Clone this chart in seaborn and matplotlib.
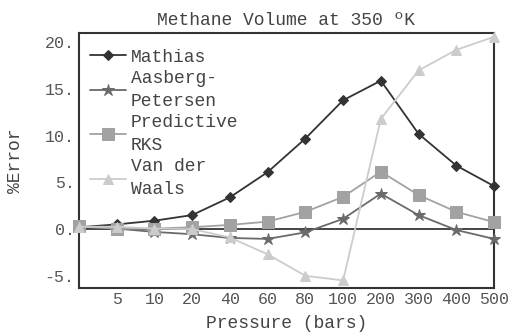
import matplotlib
matplotlib.use("Agg")
import matplotlib.pyplot as plt
import seaborn as sns
import pandas as pd

pressure_labels = ["", "5", "10", "20", "40", "60", "80", "100", "200", "300", "400", "500"]
mathias = [0.2, 0.5, 0.9, 1.5, 3.4, 6.1, 9.7, 13.8, 15.9, 10.2, 6.8, 4.6]
aasberg = [0.25, 0.05, -0.3, -0.55, -0.95, -1.05, -0.35, 1.1, 3.8, 1.5, -0.1, -1.05]
rks = [0.3, 0.05, 0.05, 0.2, 0.45, 0.8, 1.85, 3.45, 6.15, 3.65, 1.85, 0.75]
vdw = [0.25, 0.25, 0.05, 0.0, -0.9, -2.7, -5.0, -5.5, 11.8, 17.0, 19.2, 20.6]
series_names = ["Mathias", "Aasberg-\nPetersen", "Predictive\nRKS", "Van der\nWaals"]
yticks = [-5, 0, 5, 10, 15, 20]

sns.set_style("white")
plt.rcParams["font.family"] = ["Liberation Mono", "DejaVu Sans Mono"]

fig = plt.figure(figsize=(5.12, 3.34), dpi=100)
ax = fig.add_axes([0.154, 0.138, 0.811, 0.763])

xpos = list(range(len(pressure_labels)))
styles = [
    (mathias, "#333333", "D", 5.5),
    (aasberg, "#6a6a6a", "*", 9),
    (rks, "#a2a2a2", "s", 8),
    (vdw, "#cccccc", "^", 7),
]
ax.axhline(0, color="#444444", lw=1.4, zorder=1)
for name, (vals, col, mk, ms) in zip(series_names, styles):
    df = pd.DataFrame({"x": xpos, "y": vals})
    sns.lineplot(data=df, x="x", y="y", ax=ax, color=col, marker=mk,
                 markersize=ms, markeredgecolor=col, lw=1.3, label=name,
                 clip_on=False, zorder=3)

ax.set_xlim(0, 11)
ax.set_ylim(-6.3, 21)
ax.set_xticks(xpos[1:])
ax.set_xticklabels(pressure_labels[1:], fontsize=12, color="#555555")
ax.set_yticks(yticks)
ax.set_yticklabels([f"{v}." for v in yticks], fontsize=12, color="#555555")
ax.tick_params(direction="in", length=4, width=1, color="#333333", pad=3)
for s in ax.spines.values():
    s.set_color("#333333")
    s.set_linewidth(1.5)
    s.set_visible(True)

ax.set_title("Methane Volume at 350 ºK", fontsize=13, color="#444444", pad=6)
ax.set_xlabel("Pressure (bars)", fontsize=13, color="#444444", labelpad=6)
ax.set_ylabel("%Error", fontsize=13, color="#444444", labelpad=15)

leg = ax.legend(loc="upper left", frameon=False, fontsize=13, handlelength=2.0,
                handletextpad=0.3, labelspacing=0.24, borderaxespad=0.4,
                bbox_to_anchor=(-0.009, 0.995))
for t in leg.get_texts():
    t.set_color("#444444")
    t.set_linespacing(1.45)

fig.savefig("out.png", dpi=100)
